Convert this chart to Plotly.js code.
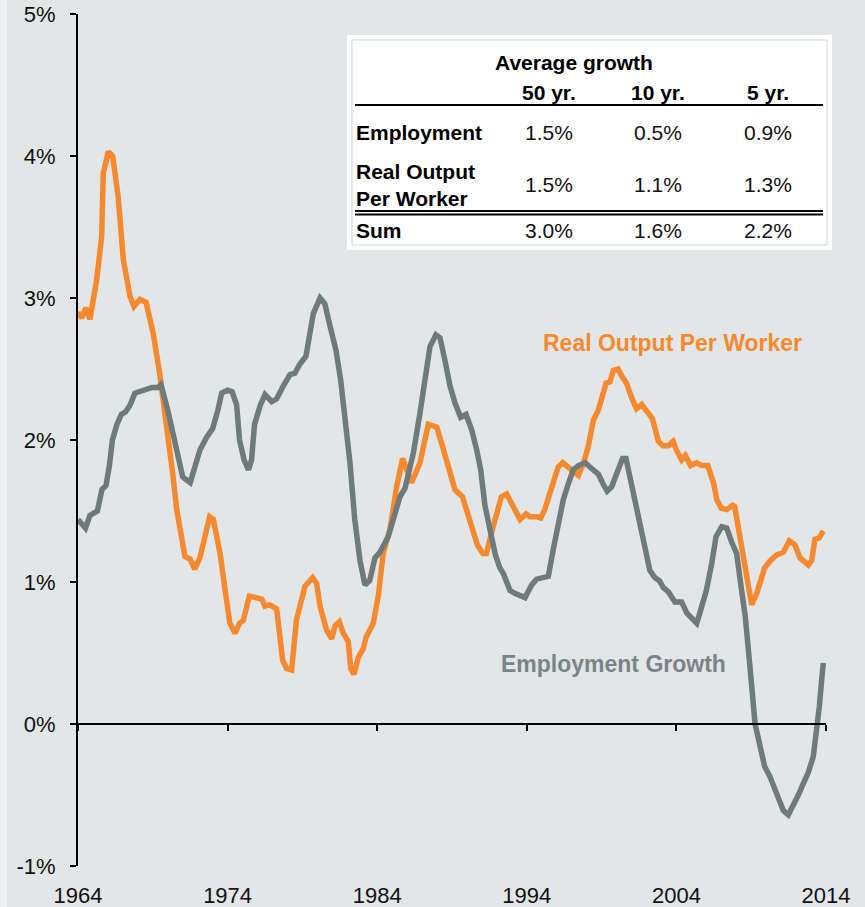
<!DOCTYPE html>
<html>
<head>
<meta charset="utf-8">
<script src="https://cdn.plot.ly/plotly-3.0.1.min.js"></script>
<style>
html,body{margin:0;padding:0;background:#E2E6E7;}
#chart{width:865px;height:907px;}
</style>
</head>
<body>
<div id="chart"></div>
<script>
// ---- Data ----
const outputYears = [1964.0,1964.25,1964.53,1964.8,1965.25,1965.58,1965.69,1966.03,1966.32,1966.69,1967.03,1967.48,1967.74,1968.14,1968.55,1969.03,1969.43,1969.8,1970.3,1970.6,1971.0,1971.15,1971.5,1971.8,1972.15,1972.8,1973.05,1973.5,1973.8,1974.15,1974.5,1974.8,1975.05,1975.45,1975.9,1976.28,1976.5,1976.8,1977.28,1977.68,1977.95,1978.28,1978.6,1979.17,1979.69,1979.95,1980.18,1980.62,1980.96,1981.18,1981.47,1981.73,1982.07,1982.23,1982.45,1982.74,1983.07,1983.25,1983.74,1984.07,1984.4,1984.85,1985.3,1985.7,1986.3,1986.86,1987.42,1987.98,1988.3,1988.75,1989.2,1989.7,1990.2,1990.7,1991.07,1991.3,1991.7,1992.3,1992.65,1993.1,1993.55,1993.95,1994.2,1994.66,1994.93,1995.2,1995.66,1996.1,1996.4,1996.9,1997.45,1997.8,1998.1,1998.45,1998.78,1999.3,1999.56,1999.78,2000.1,2000.35,2000.67,2001.0,2001.34,2001.68,2002.0,2002.4,2002.8,2003.1,2003.45,2003.78,2004.0,2004.35,2004.6,2004.95,2005.35,2005.7,2006.1,2006.5,2006.7,2007.0,2007.36,2007.76,2007.9,2008.25,2008.7,2009.03,2009.37,2009.6,2009.9,2010.27,2010.7,2011.15,2011.55,2011.93,2012.26,2012.82,2013.04,2013.26,2013.55,2013.82];
const outputGrowth = [2.90,2.86,2.93,2.85,3.13,3.43,3.88,4.03,4.00,3.71,3.27,3.01,2.94,2.99,2.97,2.75,2.49,2.21,1.79,1.51,1.26,1.18,1.16,1.09,1.17,1.46,1.44,1.20,0.97,0.71,0.64,0.71,0.73,0.90,0.89,0.88,0.83,0.84,0.81,0.45,0.39,0.38,0.73,0.97,1.03,0.99,0.83,0.66,0.60,0.69,0.72,0.64,0.58,0.39,0.35,0.47,0.53,0.61,0.71,0.90,1.20,1.37,1.67,1.87,1.70,1.84,2.11,2.09,1.98,1.81,1.65,1.60,1.44,1.26,1.20,1.20,1.37,1.60,1.62,1.53,1.44,1.48,1.46,1.46,1.45,1.51,1.65,1.81,1.84,1.80,1.75,1.84,1.95,2.14,2.21,2.40,2.41,2.49,2.50,2.45,2.40,2.30,2.22,2.25,2.20,2.15,1.99,1.96,1.96,1.99,1.93,1.86,1.89,1.82,1.84,1.82,1.82,1.69,1.58,1.52,1.51,1.54,1.53,1.32,1.04,0.84,0.92,0.99,1.10,1.15,1.19,1.21,1.29,1.26,1.17,1.12,1.15,1.30,1.31,1.36];

const employmentYears = [1964.0,1964.27,1964.5,1964.8,1965.1,1965.3,1965.6,1965.87,1966.1,1966.3,1966.6,1966.9,1967.2,1967.5,1967.8,1968.1,1968.55,1968.95,1969.35,1969.55,1970.0,1970.3,1970.7,1971.0,1971.5,1971.75,1972.15,1972.6,1973.0,1973.35,1973.6,1974.0,1974.3,1974.6,1974.8,1975.1,1975.4,1975.6,1975.8,1976.2,1976.5,1976.95,1977.28,1977.72,1978.17,1978.5,1978.8,1979.24,1979.5,1979.73,1980.18,1980.5,1980.85,1981.25,1981.56,1981.85,1982.18,1982.5,1982.85,1983.18,1983.5,1983.85,1984.18,1984.74,1985.08,1985.52,1985.86,1986.42,1986.86,1987.2,1987.53,1987.93,1988.2,1988.53,1988.87,1989.2,1989.58,1989.94,1990.32,1990.65,1990.92,1991.2,1991.55,1991.9,1992.2,1992.43,1992.88,1993.2,1993.88,1994.33,1994.66,1995.1,1995.44,1995.77,1996.1,1996.44,1996.77,1997.1,1997.45,1997.9,1998.22,1998.78,1999.1,1999.37,1999.67,2000.0,2000.4,2000.63,2000.9,2001.23,2001.57,2001.9,2002.23,2002.57,2002.86,2003.13,2003.47,2003.9,2004.35,2004.7,2005.03,2005.36,2005.7,2006.0,2006.36,2006.65,2007.03,2007.36,2007.7,2008.03,2008.36,2008.6,2008.92,2009.26,2009.6,2009.9,2010.25,2010.7,2011.15,2011.48,2011.8,2012.15,2012.48,2012.82,2013.15,2013.37,2013.55,2013.71,2013.82];
const employmentGrowth = [1.44,1.40,1.38,1.47,1.49,1.50,1.65,1.68,1.82,2.00,2.11,2.18,2.20,2.25,2.33,2.34,2.35,2.37,2.37,2.39,2.21,2.07,1.86,1.74,1.70,1.79,1.93,2.02,2.08,2.21,2.33,2.35,2.34,2.25,2.00,1.86,1.79,1.86,2.11,2.25,2.32,2.27,2.29,2.38,2.46,2.47,2.53,2.59,2.73,2.89,3.00,2.96,2.80,2.63,2.42,2.14,1.84,1.44,1.15,0.98,1.01,1.17,1.21,1.32,1.44,1.60,1.66,1.91,2.19,2.45,2.66,2.74,2.72,2.56,2.38,2.26,2.16,2.18,2.07,1.93,1.79,1.54,1.37,1.19,1.10,1.06,0.94,0.92,0.89,0.98,1.02,1.03,1.04,1.23,1.41,1.58,1.69,1.79,1.82,1.84,1.81,1.76,1.69,1.64,1.67,1.75,1.87,1.87,1.74,1.58,1.39,1.23,1.08,1.03,1.01,0.96,0.93,0.86,0.86,0.78,0.74,0.71,0.83,0.94,1.13,1.32,1.39,1.38,1.28,1.20,0.94,0.76,0.40,0.00,-0.16,-0.30,-0.37,-0.50,-0.61,-0.64,-0.58,-0.50,-0.42,-0.34,-0.23,-0.07,0.12,0.31,0.43];

const xTickVals = [1964,1974,1984,1994,2004,2014];
const xTickText = ['1964','1974','1984','1994','2004','2014'];
const yTickVals = [-1,0,1,2,3,4,5];
const yTickText = ['-1%','0%','1%','2%','3%','4%','5%'];

// Table content
const tableTitle = 'Average growth';
const tableCols = ['50 yr.','10 yr.','5 yr.'];
const tableRowLabels = ['Employment','Real Output<br>Per Worker','Sum'];
const avgEmployment = ['1.5%','0.5%','0.9%'];
const avgOutput = ['1.5%','1.1%','1.3%'];
const avgSum = ['3.0%','1.6%','2.2%'];

// ---- Layout helpers (pixel -> paper) ----
const W = 865, H = 907, ML = 78, MR = 39, MT = 14, MB = 41;
const PW = W - ML - MR, PH = H - MT - MB;
const px = x => (x - ML) / PW;
const py = y => (H - MB - y) / PH;

const ORANGE = '#F6882D';
const GRAY = '#6F7A7B';
const BG = '#E2E6E7';
const FONT = 'Arial, "Liberation Sans", sans-serif';
const TFS = 21;

const traces = [
  {x: outputYears, y: outputGrowth, type: 'scatter', mode: 'lines', name: 'Real Output Per Worker',
   line: {color: ORANGE, width: 5.5}, hoverinfo: 'skip'},
  {x: employmentYears, y: employmentGrowth, type: 'scatter', mode: 'lines', name: 'Employment Growth',
   line: {color: GRAY, width: 5.5}, hoverinfo: 'skip'},
  {x: [xTickVals[0]], y: [null], xaxis: 'x2', type: 'scatter', mode: 'lines', showlegend: false, hoverinfo: 'skip'}
];

const annotations = [];
const shapes = [];
function txt(text, x, y, opts) {
  annotations.push(Object.assign({
    text: text, xref: 'paper', yref: 'paper', x: px(x), y: py(y),
    showarrow: false, xanchor: 'center', yanchor: 'middle',
    font: {family: FONT, size: TFS, color: '#111'}
  }, opts || {}));
}

// table box
shapes.push({type: 'rect', xref: 'paper', yref: 'paper', x0: px(347), x1: px(832), y0: py(35), y1: py(250),
  fillcolor: '#FFFFFF', line: {width: 0}, layer: 'above'});
shapes.push({type: 'rect', xref: 'paper', yref: 'paper', x0: px(352), x1: px(827), y0: py(40), y1: py(245),
  fillcolor: 'rgba(0,0,0,0)', line: {width: 1, color: '#D5D9DA'}, layer: 'above'});
shapes.push({type: 'line', xref: 'paper', yref: 'paper', x0: px(355), x1: px(823), y0: py(105), y1: py(105),
  line: {width: 2, color: '#000'}, layer: 'above'});
shapes.push({type: 'line', xref: 'paper', yref: 'paper', x0: px(355), x1: px(823), y0: py(211), y1: py(211),
  line: {width: 2, color: '#000'}, layer: 'above'});
shapes.push({type: 'line', xref: 'paper', yref: 'paper', x0: px(355), x1: px(823), y0: py(214.5), y1: py(214.5),
  line: {width: 2, color: '#000'}, layer: 'above'});
// light strip on the left edge
shapes.push({type: 'rect', xref: 'paper', yref: 'paper', x0: px(0), x1: px(7), y0: py(0), y1: py(907),
  fillcolor: '#EEF0F1', line: {width: 0}, layer: 'below'});

const colX = [549, 658, 768];
const rowY = [132, 185, 230];
txt('<b>' + tableTitle + '</b>', 574, 62, {font: {family: FONT, size: TFS, color: '#000'}});
tableCols.forEach((c, i) => txt('<b>' + c + '</b>', colX[i], 93, {font: {family: FONT, size: TFS, color: '#000'}}));
tableRowLabels.forEach((r, i) => txt('<b>' + r + '</b>', 354, rowY[i], {xanchor: 'left', align: 'left',
  font: {family: FONT, size: TFS, color: '#000'}}));
[avgEmployment, avgOutput, avgSum].forEach((row, i) => row.forEach((v, j) =>
  txt(v, colX[j], rowY[i], {font: {family: FONT, size: TFS, color: '#111'}})));

// series labels
txt('<b>Real Output Per Worker</b>', 672, 343, {font: {family: FONT, size: 23, color: ORANGE}});
txt('<b>Employment Growth</b>', 613, 664, {font: {family: FONT, size: 23, color: '#7A8486'}});

const layout = {
  width: W, height: H,
  margin: {l: ML, r: MR, t: MT, b: MB, pad: 0},
  paper_bgcolor: BG, plot_bgcolor: BG,
  showlegend: false,
  xaxis: {
    range: [1964, 2014], tickvals: xTickVals, ticktext: xTickText,
    showgrid: false, zeroline: false, showline: false, ticks: '',
    tickfont: {family: FONT, size: 22, color: '#111'}, ticklabelstandoff: 14, fixedrange: true
  },
  xaxis2: {
    overlaying: 'x', anchor: 'free', position: 1/6, range: [1964, 2014], tickvals: xTickVals,
    showticklabels: false, showgrid: false, zeroline: false, showline: true, linecolor: '#000', linewidth: 2,
    ticks: 'outside', ticklen: 6, tickwidth: 2, tickcolor: '#000', side: 'bottom'
  },
  yaxis: {
    range: [-1, 5], tickvals: yTickVals, ticktext: yTickText,
    showgrid: false, zeroline: false, showline: true, linecolor: '#000', linewidth: 2,
    ticks: 'outside', ticklen: 6, tickwidth: 2, tickcolor: '#000',
    tickfont: {family: FONT, size: 22, color: '#111'}, ticklabelstandoff: 10, fixedrange: true
  },
  annotations: annotations,
  shapes: shapes
};

Plotly.newPlot('chart', traces, layout, {staticPlot: true, displayModeBar: false});
</script>
</body>
</html>
